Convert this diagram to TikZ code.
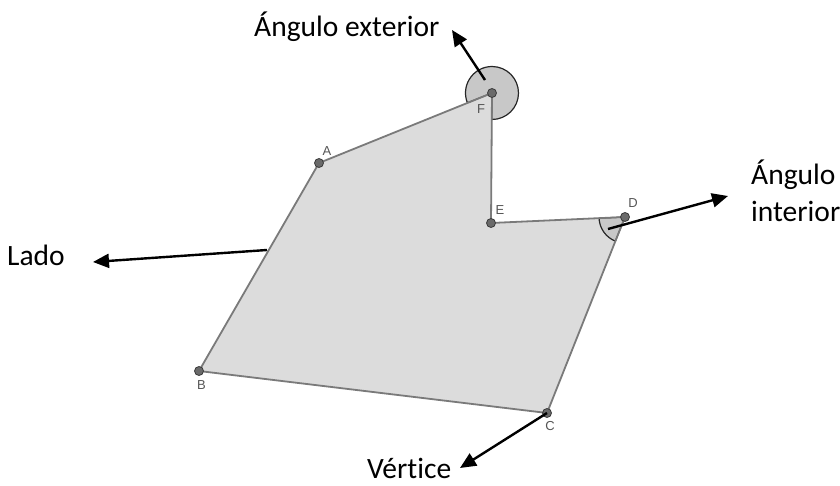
\documentclass[tikz,border=0pt]{standalone}
\usepackage{fontspec}
\setmainfont[Ligatures=CommonOff]{Carlito}
\newfontfamily\ptfont{Liberation Sans}
\usetikzlibrary{arrows.meta}
\definecolor{polyfill}{HTML}{DCDCDC}
\definecolor{polyedge}{HTML}{7A7A7A}
\definecolor{angfill}{HTML}{C8C8C8}
\definecolor{dotfill}{HTML}{6A6A6A}
\definecolor{dotedge}{HTML}{3A3A3A}
\definecolor{ptlabel}{HTML}{555555}
\tikzset{
  vtx/.style={circle,fill=dotfill,draw=dotedge,line width=0.8pt,inner sep=0pt,minimum size=9pt},
  ptlab/.style={font=\ptfont\fontsize{13}{15}\selectfont,text=ptlabel,inner sep=0pt},
  callout/.style={font=\fontsize{29.5}{35}\selectfont,inner sep=0pt},
  pointer/.style={line width=2.4pt,-{Triangle[length=16pt,width=14pt]}},
}
\begin{document}
\begin{tikzpicture}[x=1pt,y=1pt]
\useasboundingbox (0,0) rectangle (840,485);
% vertices
\coordinate (pA) at (319,322);
\coordinate (pB) at (199,114);
\coordinate (pC) at (547,72);
\coordinate (pD) at (625,268);
\coordinate (pE) at (491,262);
\coordinate (pF) at (492,392);
% polygon fill
\fill[polyfill] (pA) -- (pB) -- (pC) -- (pD) -- (pE) -- (pF) -- cycle;
% exterior angle at F
\filldraw[fill=angfill,draw=black!85,line width=1.2pt] (pF) -- ++(269.6:26.5) arc[start angle=269.6,end angle=561.75,radius=26.5] -- cycle;
% interior angle at D
\filldraw[fill=angfill,draw=black!85,line width=1.2pt] (pD) -- ++(182.6:26) arc[start angle=182.6,end angle=248.3,radius=26] -- cycle;
% polygon edges
\draw[polyedge,line width=1.8pt,line join=round] (pA) -- (pB) -- (pC) -- (pD) -- (pE) -- (pF) -- cycle;
% vertex dots
\node[vtx] (A) at (pA) {};
\node[vtx] (B) at (pB) {};
\node[vtx] (C) at (pC) {};
\node[vtx] (D) at (pD) {};
\node[vtx] (E) at (pE) {};
\node[vtx] (F) at (pF) {};
% point labels
\node[ptlab] (lA) at (327,334) {A};
\node[ptlab] (lB) at (201.5,100) {B};
\node[ptlab] (lC) at (550,59) {C};
\node[ptlab] (lD) at (633,282) {D};
\node[ptlab] (lE) at (500,275) {E};
\node[ptlab] (lF) at (481,376) {F};
% callout texts
\node[callout,anchor=base west] (tExt) at (254,448) {Ángulo exterior};
\node[callout,anchor=base west] (tInt1) at (751,300) {Ángulo};
\node[callout,anchor=base west] (tInt2) at (751,263) {interior};
\node[callout,anchor=base east] (tLado) at (65,219) {Lado};
\node[callout,anchor=base west] (tVert) at (367,7) {Vértice};
% arrow ends
\coordinate (sExt) at (485,405);
\coordinate (eExt) at (452,455);
\coordinate (sInt) at (608,256);
\coordinate (eInt) at (728,289);
\coordinate (sLado) at (267,235);
\coordinate (eLado) at (93,223);
\coordinate (eVert) at (460,17);
\draw[pointer] (sExt) -- (eExt);
\draw[pointer] (sInt) -- (eInt);
\draw[pointer] (sLado) -- (eLado);
\draw[pointer] (C.center) -- (eVert);
\end{tikzpicture}
\end{document}
